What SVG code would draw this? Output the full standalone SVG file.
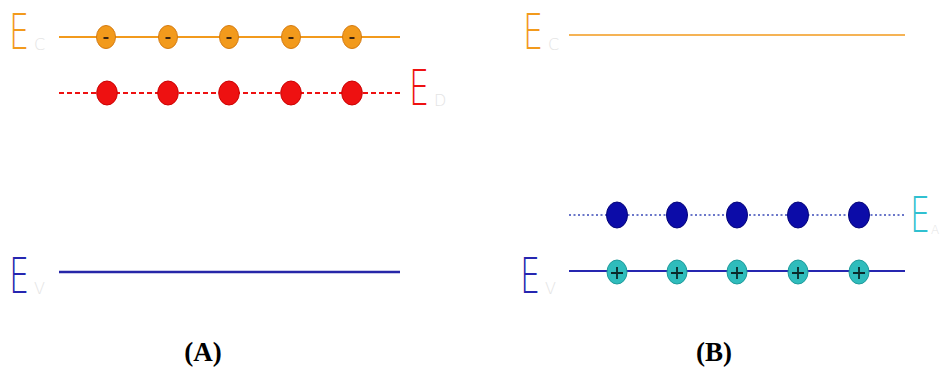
<svg xmlns="http://www.w3.org/2000/svg" width="941" height="369" viewBox="0 0 941 369">
  <style>
    .lvl { font-family: "DejaVu Sans", "Liberation Sans", sans-serif; font-weight: 200; font-size: 49px; }
    .sub { font-family: "DejaVu Sans", "Liberation Sans", sans-serif; font-weight: 200; font-size: 16px; fill: #e4e4e4; }
    .cap { font-family: "Liberation Serif", "Times New Roman", serif; font-weight: bold; font-size: 27px; fill: #000; text-anchor: middle; }
    .e-or { fill: #f29a1c; stroke: #d47a10; stroke-width: 1; }
    .e-red { fill: #ee1111; stroke: #cc0000; stroke-width: 1; }
    .h-blue { fill: #0c0ca8; stroke: #06067a; stroke-width: 1; }
    .h-cy { fill: #2fbcbc; stroke: #1e9a9a; stroke-width: 1; }
    .mark { stroke: #3a2410; stroke-width: 2; fill: none; }
    .plus { stroke: #0a2a2a; stroke-width: 1.8; fill: none; }
  </style>

  <!-- energy levels -->
  <g id="connectors">
    <line x1="59" y1="37" x2="400" y2="37" stroke="#f29a1c" stroke-width="2"/>
    <line x1="59" y1="93" x2="400" y2="93" stroke="#ee1111" stroke-width="2" stroke-dasharray="5 3"/>
    <line x1="59" y1="272" x2="400" y2="272" stroke="#2626a8" stroke-width="2.5"/>
    <line x1="569" y1="35" x2="905" y2="35" stroke="#f29a1c" stroke-width="1.6"/>
    <line x1="569" y1="215" x2="905" y2="215" stroke="#3a4ab8" stroke-width="1.6" stroke-dasharray="2 2.5"/>
    <line x1="569" y1="271" x2="905" y2="271" stroke="#2626b0" stroke-width="2"/>
  </g>

  <!-- panel A: level labels -->
  <g id="label-ec-a">
    <text class="lvl" fill="#f29a1c" transform="translate(9,49) scale(0.65,1)">E</text>
    <text class="sub" x="34" y="50">C</text>
  </g>
  <g id="label-ed-a">
    <text class="lvl" fill="#ee1111" transform="translate(409,105) scale(0.65,1)">E</text>
    <text class="sub" x="434" y="106">D</text>
  </g>
  <g id="label-ev-a">
    <text class="lvl" fill="#2626b0" transform="translate(9,293) scale(0.65,1)">E</text>
    <text class="sub" x="34" y="294">V</text>
  </g>

  <!-- panel A: electrons on the conduction band -->
  <g id="electrons-ec">
    <g><ellipse class="e-or" cx="106" cy="37" rx="9.5" ry="11.5"/><line class="mark" x1="103.5" y1="38" x2="108.5" y2="38"/></g>
    <g><ellipse class="e-or" cx="168" cy="37" rx="9.5" ry="11.5"/><line class="mark" x1="165.5" y1="38" x2="170.5" y2="38"/></g>
    <g><ellipse class="e-or" cx="229" cy="37" rx="9.5" ry="11.5"/><line class="mark" x1="226.5" y1="38" x2="231.5" y2="38"/></g>
    <g><ellipse class="e-or" cx="291" cy="37" rx="9.5" ry="11.5"/><line class="mark" x1="288.5" y1="38" x2="293.5" y2="38"/></g>
    <g><ellipse class="e-or" cx="352" cy="37" rx="9.5" ry="11.5"/><line class="mark" x1="349.5" y1="38" x2="354.5" y2="38"/></g>
  </g>

  <!-- panel A: donor level states -->
  <g id="donors-ed">
    <ellipse class="e-red" cx="107" cy="93" rx="10.3" ry="12"/>
    <ellipse class="e-red" cx="168" cy="93" rx="10.3" ry="12"/>
    <ellipse class="e-red" cx="229" cy="93" rx="10.3" ry="12"/>
    <ellipse class="e-red" cx="291" cy="93" rx="10.3" ry="12"/>
    <ellipse class="e-red" cx="352" cy="93" rx="10.3" ry="12"/>
  </g>

  <!-- panel B: level labels -->
  <g id="label-ec-b">
    <text class="lvl" fill="#f29a1c" transform="translate(523,49) scale(0.65,1)">E</text>
    <text class="sub" x="548" y="50">C</text>
  </g>
  <g id="label-ea-b">
    <text class="lvl" fill="#30c0d0" transform="translate(910,232) scale(0.65,1)">E</text>
    <text class="sub" x="931" y="234" style="font-size:12px">A</text>
  </g>
  <g id="label-ev-b">
    <text class="lvl" fill="#2626b0" transform="translate(520,293) scale(0.65,1)">E</text>
    <text class="sub" x="545" y="294">V</text>
  </g>

  <!-- panel B: acceptor level states -->
  <g id="acceptors-ea">
    <ellipse class="h-blue" cx="617" cy="215" rx="10.5" ry="13"/>
    <ellipse class="h-blue" cx="677" cy="215" rx="10.5" ry="13"/>
    <ellipse class="h-blue" cx="737" cy="215" rx="10.5" ry="13"/>
    <ellipse class="h-blue" cx="798" cy="215" rx="10.5" ry="13"/>
    <ellipse class="h-blue" cx="859" cy="215" rx="10.5" ry="13"/>
  </g>

  <!-- panel B: holes on the valence band -->
  <g id="holes-ev">
    <g><ellipse class="h-cy" cx="617" cy="272" rx="10" ry="12"/><path class="plus" d="M611 273h12M617 267v12"/></g>
    <g><ellipse class="h-cy" cx="677" cy="272" rx="10" ry="12"/><path class="plus" d="M671 273h12M677 267v12"/></g>
    <g><ellipse class="h-cy" cx="737" cy="272" rx="10" ry="12"/><path class="plus" d="M731 273h12M737 267v12"/></g>
    <g><ellipse class="h-cy" cx="798" cy="272" rx="10" ry="12"/><path class="plus" d="M792 273h12M798 267v12"/></g>
    <g><ellipse class="h-cy" cx="859" cy="272" rx="10" ry="12"/><path class="plus" d="M853 273h12M859 267v12"/></g>
  </g>

  <!-- panel captions -->
  <g id="caption-a"><text class="cap" x="203" y="361">(A)</text></g>
  <g id="caption-b"><text class="cap" x="714" y="361">(B)</text></g>
</svg>
